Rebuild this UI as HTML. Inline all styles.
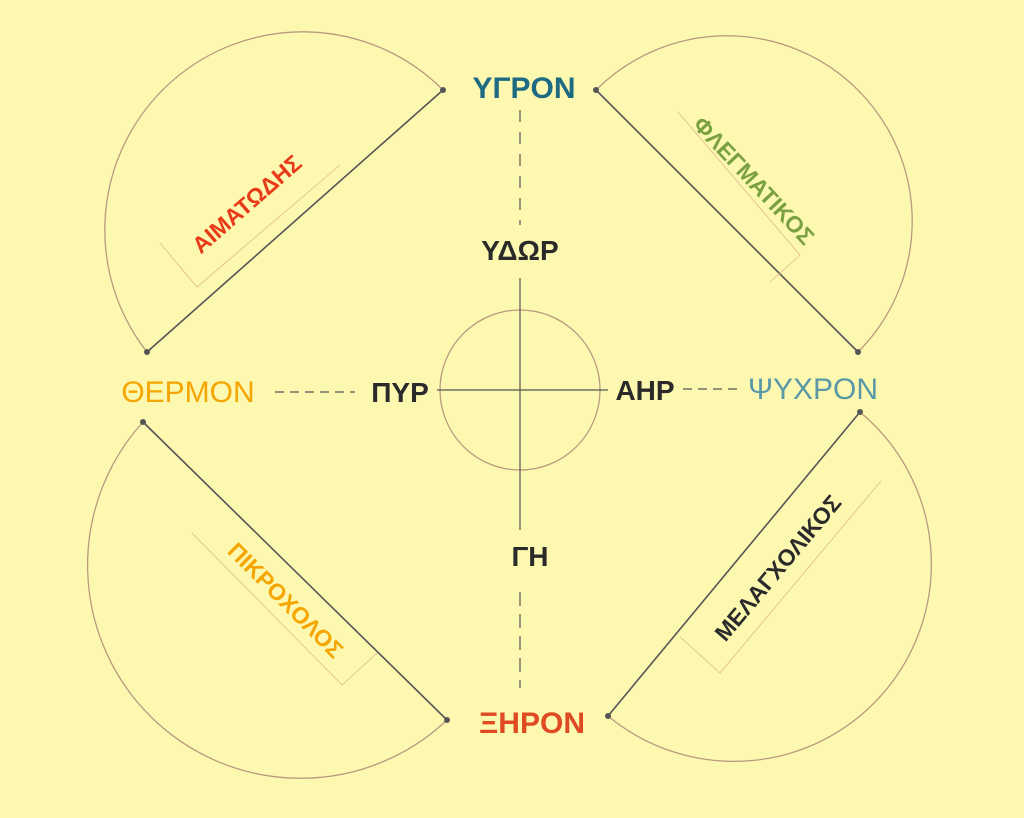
<!DOCTYPE html>
<html><head><meta charset="utf-8"><style>
html,body{margin:0;padding:0;background:#fdf8b0;}
svg{display:block}
text{font-family:"Liberation Sans","DejaVu Sans",sans-serif;}
</style></head><body>
<svg width="1024" height="818" viewBox="0 0 1024 818" xmlns="http://www.w3.org/2000/svg">
<rect width="1024" height="818" fill="#fdf8b0"/>
<g fill="none" stroke="#b89a80" stroke-width="1.3">
<path d="M443,90 A198,198 0 0 0 147,352"/>
<path d="M596,90 A185,185 0 0 1 858,352"/>
<path d="M143,422 A213,213 0 0 0 447,720"/>
<path d="M608,716 A197,197 0 0 0 860,412"/>
<circle cx="520" cy="390" r="80"/>
</g>
<g stroke="#555" stroke-width="1.6">
<line x1="443" y1="90" x2="147" y2="352"/>
<line x1="596" y1="90" x2="858" y2="352"/>
<line x1="143" y1="422" x2="447" y2="720"/>
<line x1="608" y1="716" x2="860" y2="412"/>
</g>
<g fill="#555"><circle cx="443" cy="90" r="3"/><circle cx="147" cy="352" r="3"/><circle cx="596" cy="90" r="3"/><circle cx="858" cy="352" r="3"/><circle cx="143" cy="422" r="3"/><circle cx="447" cy="720" r="3"/><circle cx="608" cy="716" r="3"/><circle cx="860" cy="412" r="3"/></g>
<g stroke="#555" stroke-width="1.2">
<line x1="520" y1="110" x2="520" y2="225" stroke-dasharray="12,10"/>
<line x1="520" y1="278" x2="520" y2="530"/>
<line x1="520" y1="592" x2="520" y2="688" stroke-dasharray="14,8"/>
<line x1="437" y1="390" x2="608" y2="390"/>
<line x1="275" y1="392" x2="355" y2="392" stroke-dasharray="9,6"/>
<line x1="683" y1="389" x2="740" y2="389" stroke-dasharray="9,6"/>
</g>
<g stroke="#e0b890" stroke-width="0.8" fill="none">
<polyline points="160,243 197,287 340,165"/>
<polyline points="678,112 800,255 770,282"/>
<polyline points="192,533 342,685 377,653"/>
<polyline points="680,637 720,673 881,481"/>
</g>
<g font-weight="bold" text-anchor="middle">
<text x="524" y="98" font-size="30" fill="#1d6a82">ΥΓΡΟΝ</text>
<text x="520" y="260" font-size="28" fill="#2a2a2a">ΥΔΩΡ</text>
<text x="400" y="402" font-size="28" fill="#2a2a2a">ΠΥΡ</text>
<text x="645" y="400" font-size="28" fill="#2a2a2a">ΑΗΡ</text>
<text x="530" y="566" font-size="28" fill="#2a2a2a">ΓΗ</text>
<text x="532" y="733" font-size="30" fill="#e04a22">ΞΗΡΟΝ</text>
</g>
<g text-anchor="middle">
<text x="188" y="402" font-size="30" fill="#f5a500">ΘΕΡΜΟΝ</text>
<text x="813" y="399" font-size="30" fill="#5a98a8">ΨΥΧΡΟΝ</text>
</g>
<g font-weight="bold" text-anchor="middle" font-size="23">
<text transform="translate(252,210) rotate(-41)" fill="#e83a18">ΑΙΜΑΤΩΔΗΣ</text>
<text transform="translate(748,186) rotate(47)" fill="#7aa040">ΦΛΕΓΜΑΤΙΚΟΣ</text>
<text transform="translate(280,606) rotate(45)" fill="#f5a500">ΠΙΚΡΟΧΟΛΟΣ</text>
<text transform="translate(784,573) rotate(-50)" fill="#2a2a2a">ΜΕΛΑΓΧΟΛΙΚΟΣ</text>
</g>
</svg>
</body></html>
